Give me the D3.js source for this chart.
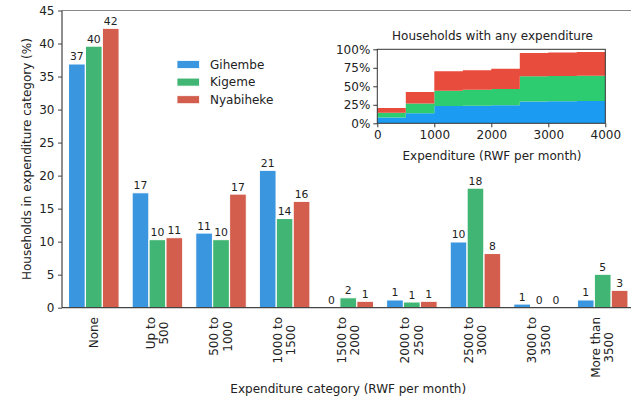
<!DOCTYPE html>
<html>
<head>
<meta charset="utf-8">
<script src="https://cdn.jsdelivr.net/npm/d3@7"></script>
<style>
  html, body { margin: 0; padding: 0; background: #fff; }
  svg { display: block; font-family: "DejaVu Sans", sans-serif; }
</style>
</head>
<body>
<svg id="chart" width="631" height="396"></svg>
<script>
// Expenditure categories (label lines)
const categories = [
  ["None"], ["Up to", "500"], ["500 to", "1000"], ["1000 to", "1500"],
  ["1500 to", "2000"], ["2000 to", "2500"], ["2500 to", "3000"],
  ["3000 to", "3500"], ["More than", "3500"]
];
const campNames = ["Gihembe", "Kigeme", "Nyabiheke"];
// Share of households in each category (%)
const gihembe   = [36.9, 17.4, 11.3, 20.8, 0.0, 1.17, 9.95, 0.55, 1.17];
const kigeme    = [39.6, 10.3, 10.3, 13.5, 1.5, 0.86, 18.1, 0.0, 5.06];
const nyabiheke = [42.3, 10.6, 17.2, 16.1, 0.97, 0.97, 8.2, 0.0, 2.63];
const yTicks = [0, 5, 10, 15, 20, 25, 30, 35, 40, 45];

// Inset: households with any expenditure, stacked by camp (%)
const insetEdges = [0, 500, 1000, 1500, 2000, 2500, 3000, 3500, 4000];
const insetGihembe   = [8.0, 13.5, 23.5, 23.7, 24.3, 29.5, 29.8, 30.2];
const insetKigeme    = [6.4, 13.1, 20.6, 21.6, 22.2, 34.0, 34.1, 34.1];
const insetNyabiheke = [6.3, 15.7, 26.2, 26.3, 27.3, 31.5, 31.9, 32.2];
const insetXTicks = [0, 1000, 2000, 3000, 4000];
const insetYTicks = [0, 25, 50, 75, 100];

const barColors = ["#3a96df", "#41b573", "#d35e4d"];
const areaColors = ["#1b9bf1", "#2ecc71", "#e74c3c"];

const svg = d3.select("#chart");
const series = [gihembe, kigeme, nyabiheke];

// ---------- main bar chart ----------
const x = d3.scaleLinear().domain([-0.5, 8.5]).range([62, 634.5]);
const y = d3.scaleLinear().domain([0, 45]).range([307.7, 10.5]);
const unit = x(1) - x(0);
const barW = 0.262 * unit;
const offs = [-0.266, 0, 0.266];

const main = svg.append("g");

series.forEach((vals, s) => {
  const g = main.append("g");
  g.selectAll("rect").data(vals).join("rect")
    .attr("x", (d, i) => x(i + offs[s]) - barW / 2)
    .attr("width", barW)
    .attr("y", d => y(d))
    .attr("height", d => y(0) - y(d))
    .attr("fill", barColors[s])
    .attr("stroke", "#fff")
    .attr("stroke-width", 1);
  g.selectAll("text").data(vals).join("text")
    .attr("x", (d, i) => x(i + offs[s]))
    .attr("y", d => y(d) - 3.5)
    .attr("text-anchor", "middle")
    .attr("font-size", 10.8)
    .attr("fill", "#222")
    .text(d => Math.round(d));
});

// spines
main.append("line").attr("x1", 62).attr("x2", 634.5).attr("y1", y(45)).attr("y2", y(45))
  .attr("stroke", "#888").attr("stroke-width", 1.1);
main.append("line").attr("x1", 62).attr("x2", 62).attr("y1", y(45)).attr("y2", y(0))
  .attr("stroke", "#444").attr("stroke-width", 1.2);
main.append("line").attr("x1", 62).attr("x2", 634.5).attr("y1", y(0)).attr("y2", y(0))
  .attr("stroke", "#444").attr("stroke-width", 1.2);

// y axis
const yAxis = d3.axisLeft(y).tickValues(yTicks).tickSize(4).tickPadding(3.5);
const yg = main.append("g").attr("transform", "translate(62,0)").call(yAxis);
yg.select(".domain").remove();
yg.selectAll(".tick line").attr("stroke", "#444");
yg.selectAll(".tick text").attr("font-size", 12).attr("fill", "#222").attr("font-family", "DejaVu Sans");

main.append("text")
  .attr("transform", `translate(27,${(y(0) + y(45)) / 2}) rotate(-90)`)
  .attr("text-anchor", "middle").attr("dominant-baseline", "central")
  .attr("font-size", 12).attr("fill", "#222")
  .text("Households in expenditure category (%)");

// category labels (rotated, centred multi-line)
const lineH = 13.5;
categories.forEach((lines, i) => {
  const g = main.append("g").attr("transform", `translate(${x(i)},317) rotate(-90)`);
  const texts = g.selectAll("text").data(lines).join("text")
    .attr("font-size", 12).attr("fill", "#222")
    .attr("text-anchor", "middle").attr("dominant-baseline", "central")
    .attr("y", (d, k) => (k - (lines.length - 1) / 2) * lineH)
    .text(d => d);
  let maxW = 0;
  texts.each(function () { maxW = Math.max(maxW, this.getComputedTextLength()); });
  texts.attr("x", -maxW / 2);
});

main.append("text")
  .attr("x", (x(-0.5) + x(8.5)) / 2).attr("y", 393)
  .attr("text-anchor", "middle").attr("font-size", 12).attr("fill", "#222")
  .text("Expenditure category (RWF per month)");

// legend
const legend = main.append("g");
campNames.forEach((name, s) => {
  const cy = 64.5 + s * 17.6;
  legend.append("rect").attr("x", 177).attr("y", cy - 4).attr("width", 22.5).attr("height", 8)
    .attr("fill", barColors[s]).attr("stroke", "#fff").attr("stroke-width", 0.8);
  legend.append("text").attr("x", 210).attr("y", cy).attr("dominant-baseline", "central")
    .attr("font-size", 12).attr("fill", "#222").text(name);
});

// ---------- inset ----------
const ix = d3.scaleLinear().domain([0, 4000]).range([377.3, 605.3]);
const iy = d3.scaleLinear().domain([0, 100]).range([123.3, 49.3]);
const inset = svg.append("g");
inset.append("rect").attr("x", ix(0)).attr("y", iy(100))
  .attr("width", ix(4000) - ix(0)).attr("height", iy(0) - iy(100)).attr("fill", "#fff");

const rows = insetEdges.map((e, i) => {
  const k = Math.min(i, insetGihembe.length - 1);
  return { edge: e, Gihembe: insetGihembe[k], Kigeme: insetKigeme[k], Nyabiheke: insetNyabiheke[k] };
});
const stacked = d3.stack().keys(campNames)(rows);
const area = d3.area()
  .x(d => ix(d.data.edge))
  .y0(d => iy(d[0]))
  .y1(d => iy(d[1]))
  .curve(d3.curveStepAfter);
inset.selectAll("path.layer").data(stacked).join("path")
  .attr("class", "layer")
  .attr("d", area)
  .attr("fill", (d, i) => areaColors[i]);

inset.append("rect").attr("x", ix(0)).attr("y", iy(100))
  .attr("width", ix(4000) - ix(0)).attr("height", iy(0) - iy(100))
  .attr("fill", "none").attr("stroke", "#333").attr("stroke-width", 1);

const ixAxis = d3.axisBottom(ix).tickValues(insetXTicks).tickSize(4).tickPadding(3).tickFormat(d3.format("d"));
const ixg = inset.append("g").attr("transform", `translate(0,${iy(0)})`).call(ixAxis);
ixg.select(".domain").remove();
ixg.selectAll(".tick line").attr("stroke", "#333");
ixg.selectAll(".tick text").attr("font-size", 12).attr("fill", "#222").attr("font-family", "DejaVu Sans");

const iyAxis = d3.axisLeft(iy).tickValues(insetYTicks).tickSize(4).tickPadding(3).tickFormat(d => d + "%");
const iyg = inset.append("g").attr("transform", `translate(${ix(0)},0)`).call(iyAxis);
iyg.select(".domain").remove();
iyg.selectAll(".tick line").attr("stroke", "#333");
iyg.selectAll(".tick text").attr("font-size", 12).attr("fill", "#222").attr("font-family", "DejaVu Sans");

inset.append("text").attr("x", 492.5).attr("y", 39.5)
  .attr("text-anchor", "middle").attr("font-size", 12).attr("fill", "#222")
  .text("Households with any expenditure");
inset.append("text").attr("x", 492).attr("y", 159.5)
  .attr("text-anchor", "middle").attr("font-size", 12).attr("fill", "#222")
  .text("Expenditure (RWF per month)");
</script>
</body>
</html>
